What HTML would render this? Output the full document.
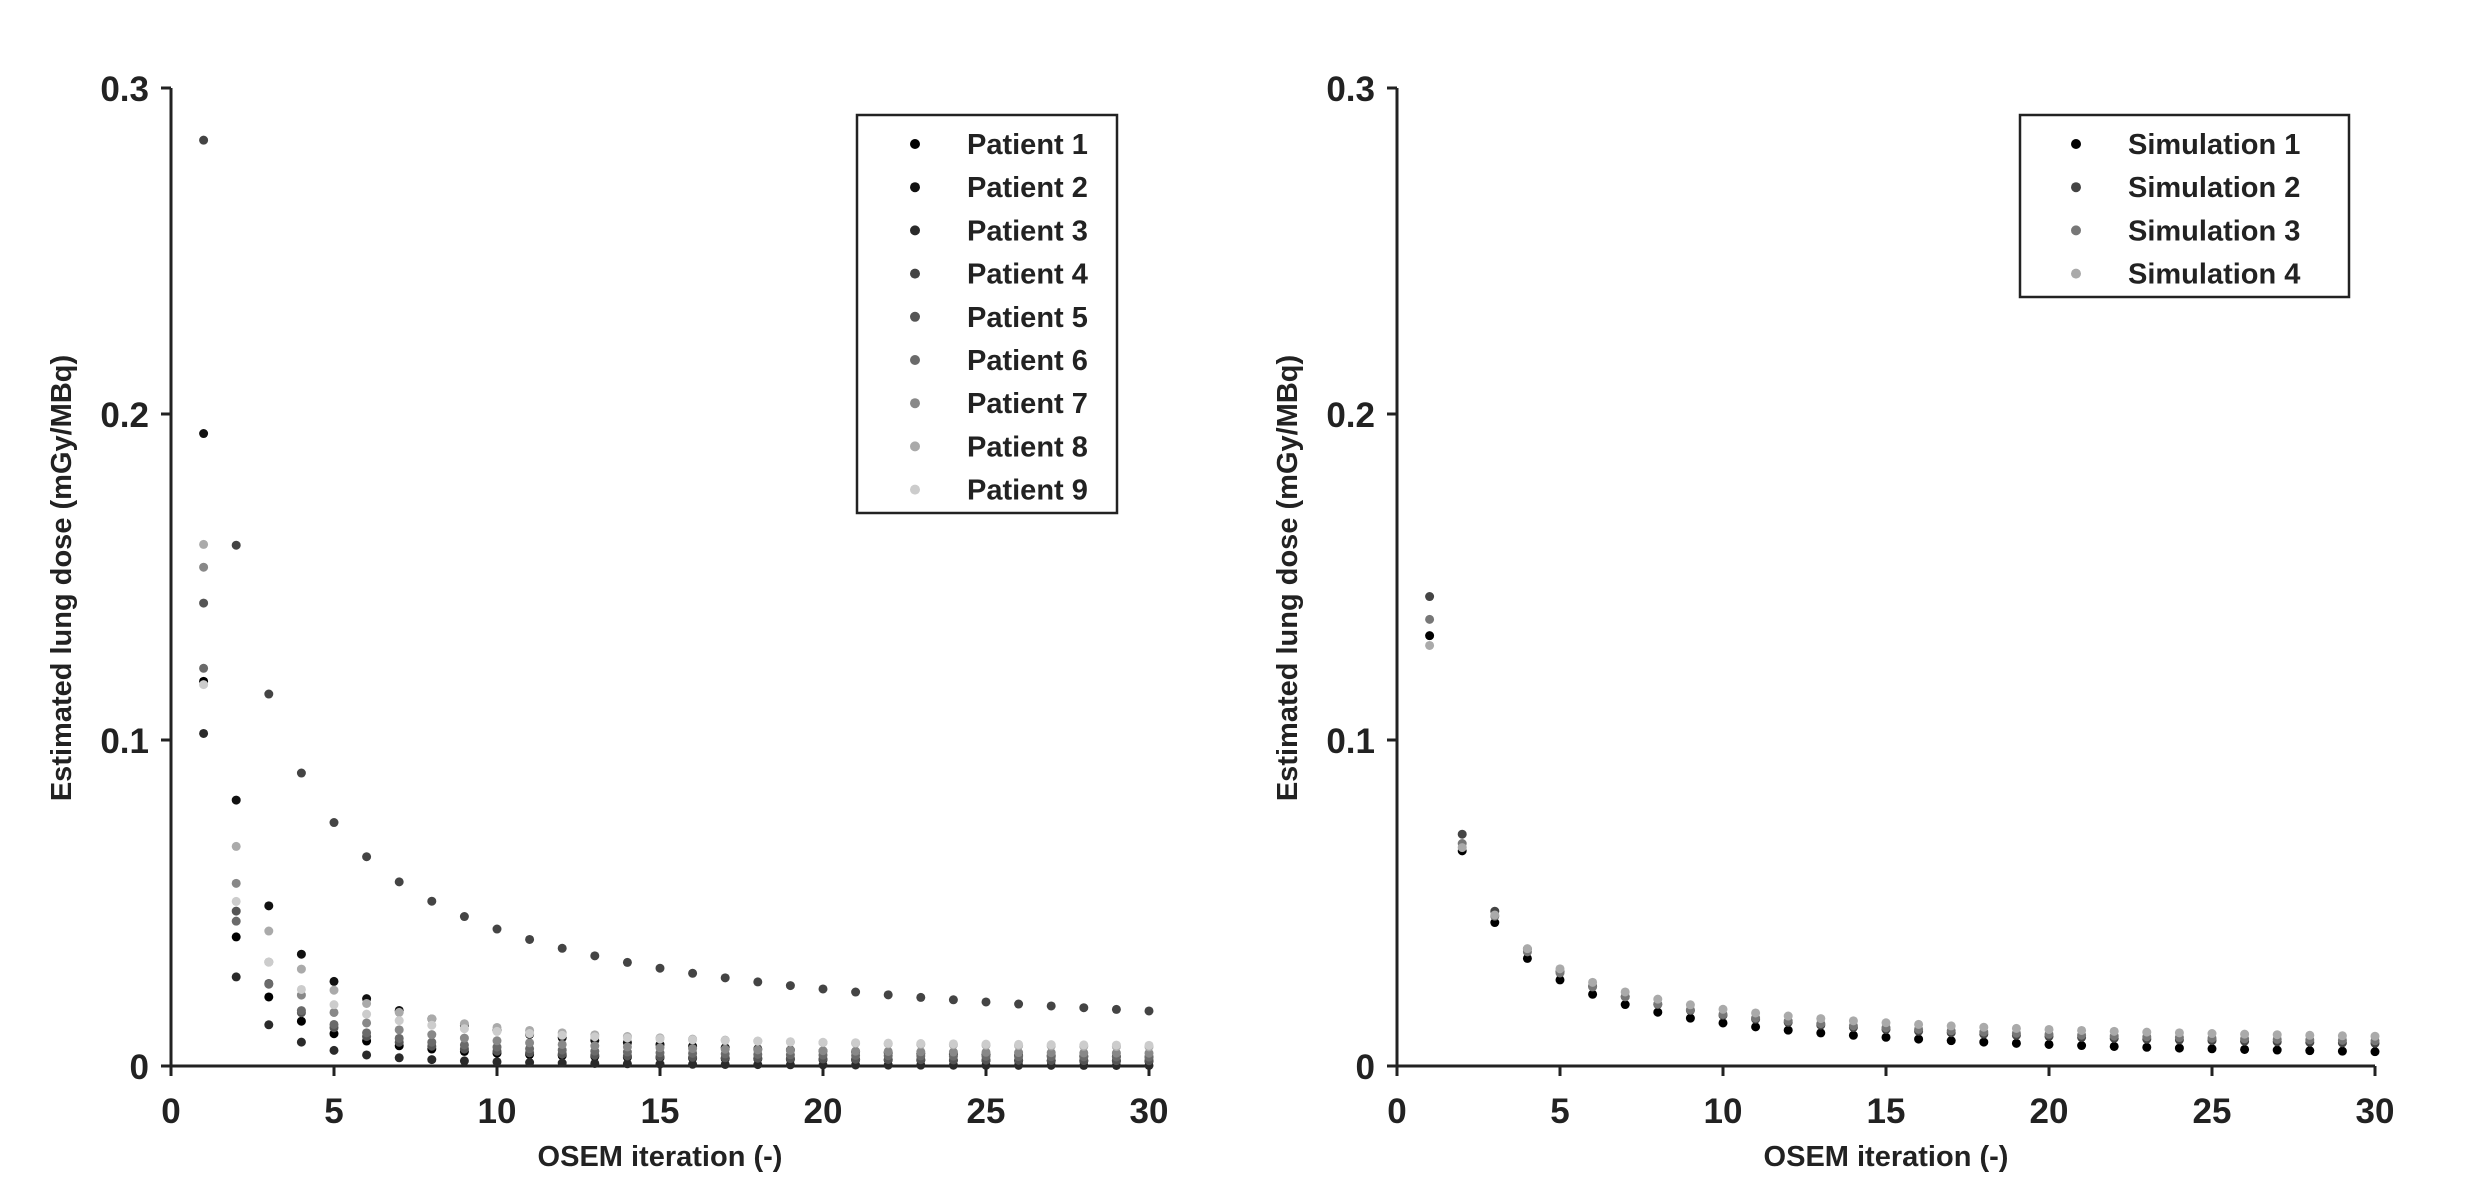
<!DOCTYPE html>
<html><head><meta charset="utf-8"><style>
html,body{margin:0;padding:0;background:#fff}
svg text{font-family:"Liberation Sans",Arial,sans-serif;font-weight:bold;fill:#222}
</style></head><body>
<svg id="s" width="2467" height="1198" viewBox="0 0 2467 1198" xmlns="http://www.w3.org/2000/svg"></svg>
<script>
const s=document.getElementById('s');let h='';
const Y0=1066,Y3=88;
function yv(v){return Y0-(v/0.3)*(Y0-Y3);}
function axes(x0,x30){
  const xs=i=>x0+(x30-x0)*i/30;
  h+=`<line x1="${x0}" y1="${Y3}" x2="${x0}" y2="${Y0}" stroke="#222" stroke-width="3"/>`;
  h+=`<line x1="${x0}" y1="${Y0}" x2="${x30}" y2="${Y0}" stroke="#222" stroke-width="3"/>`;
  for(let t=0;t<=30;t+=5){h+=`<line x1="${xs(t)}" y1="${Y0}" x2="${xs(t)}" y2="${Y0+10}" stroke="#222" stroke-width="3"/>`;
   h+=`<text x="${xs(t)}" y="${Y0+57}" font-size="35" text-anchor="middle">${t}</text>`;}
  [0,0.1,0.2,0.3].forEach(v=>{h+=`<line x1="${x0-10}" y1="${yv(v)}" x2="${x0}" y2="${yv(v)}" stroke="#222" stroke-width="3"/>`;
   h+=`<text x="${x0-22}" y="${yv(v)+13}" font-size="35" text-anchor="end">${v}</text>`;});
  h+=`<text x="${(x0+x30)/2}" y="1166" font-size="29" text-anchor="middle">OSEM iteration (-)</text>`;
  h+=`<text transform="translate(${x0-100},578) rotate(-90)" font-size="29" text-anchor="middle">Estimated lung dose (mGy/MBq)</text>`;
  return xs;
}
function series(xs,f,col){for(let i=1;i<=30;i++){h+=`<circle cx="${xs(i)}" cy="${yv(f(i))}" r="4.5" fill="${col}"/>`;}}
let xs=axes(171,1149);
const pats=[
 [0.118,0.001,1.6,'#000'],[0.194,0.0,1.25,'#111'],[0.102,0.0,1.9,'#2a2a2a'],
 [0.284,0.0,0,'#444'],[0.142,0.001,1.6,'#555'],[0.122,0.002,1.5,'#6a6a6a'],
 [0.153,0.003,1.5,'#888'],[0.160,0.004,1.3,'#aaa'],[0.117,0.005,1.3,'#ccc']];
pats.forEach((p,k)=>{
 if(k==3){series(xs,i=>0.284*Math.pow(i,-0.83),p[3]);}
 else series(xs,i=>p[1]+(p[0]-p[1])*Math.pow(i,-p[2]),p[3]);
});
h+=`<rect x="857" y="115" width="260" height="398" fill="#fff" stroke="#222" stroke-width="2.5"/>`;
for(let k=0;k<9;k++){const y=144+k*43.2;h+=`<circle cx="915" cy="${y}" r="5" fill="${pats[k][3]}"/><text x="967" y="${y+10}" font-size="29">Patient ${k+1}</text>`;}
xs=axes(1397,2375);
const sims=[[0.132,0.0,1.0,'#000'],[0.144,0.003,1.05,'#444'],[0.137,0.004,1.05,'#777'],[0.129,0.005,1.0,'#aaa']];
sims.forEach(p=>series(xs,i=>p[1]+(p[0]-p[1])*Math.pow(i,-p[2]),p[3]));
h+=`<rect x="2020" y="115" width="329" height="182" fill="#fff" stroke="#222" stroke-width="2.5"/>`;
for(let k=0;k<4;k++){const y=144+k*43.2;h+=`<circle cx="2076" cy="${y}" r="5" fill="${sims[k][3]}"/><text x="2128" y="${y+10}" font-size="29">Simulation ${k+1}</text>`;}
s.innerHTML=h;
</script>
</body></html>
